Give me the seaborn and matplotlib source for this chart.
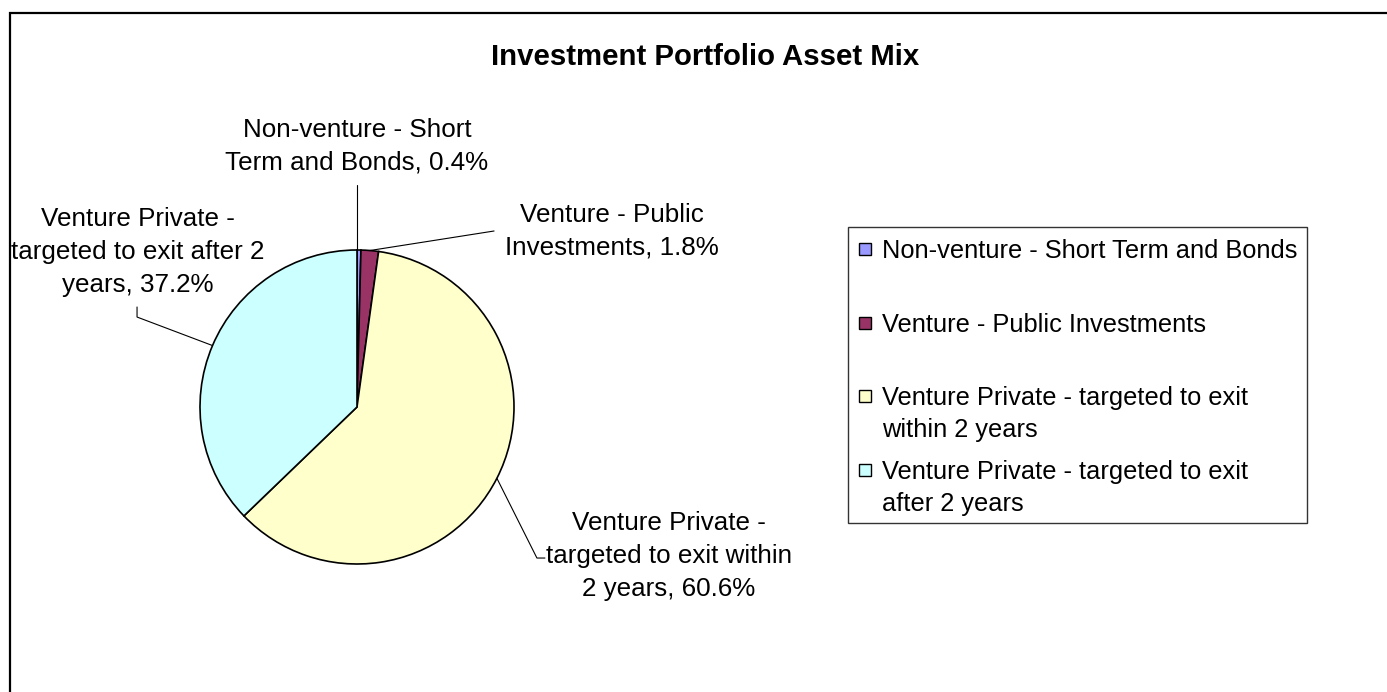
import numpy as np
import matplotlib
matplotlib.use("Agg")
import matplotlib.pyplot as plt
from matplotlib.patches import Rectangle
import seaborn as sns

# data
categories = ["Non-venture - Short Term and Bonds",
              "Venture - Public Investments",
              "Venture Private - targeted to exit within 2 years",
              "Venture Private - targeted to exit after 2 years"]
shares = [0.4, 1.8, 60.6, 37.2]
pie_names = ["Non-venture - Short\nTerm and Bonds",
             "Venture - Public\nInvestments",
             "Venture Private -\ntargeted to exit within\n2 years",
             "Venture Private -\ntargeted to exit after 2\nyears"]
legend_names = ["Non-venture - Short Term and Bonds",
                "Venture - Public Investments",
                "Venture Private - targeted to exit\nwithin 2 years",
                "Venture Private - targeted to exit\nafter 2 years"]
hex_colors = ["#9999FF", "#993366", "#FFFFCC", "#CCFFFF"]

sns.set_theme(style="white")
plt.rcParams["font.family"] = ["Liberation Sans", "DejaVu Sans"]
pal = sns.color_palette(hex_colors)

W, H = 1387, 692
fig = plt.figure(figsize=(W / 100, H / 100), dpi=100)

# outer chart frame (runs off right and bottom edges)
fig.add_artist(Rectangle((10 / W, -0.1), 2, 1 - 13 / H + 0.1, transform=fig.transFigure,
                         fill=False, edgecolor="black", linewidth=1.6))

fig.text(705 / W, 1 - 57 / H, "Investment Portfolio Asset Mix", ha="center", va="center",
         fontsize=21.2, fontweight="bold", color="black")

# pie axes: center (357, 407), radius 157 px
cx, cy, r = 357, 407, 157
ax = fig.add_axes([(cx - r) / W, (H - cy - r) / H, 2 * r / W, 2 * r / H])
wedges, _ = ax.pie(shares, colors=pal, startangle=90, counterclock=False,
                   wedgeprops=dict(edgecolor="black", linewidth=1.2))
ax.set_xlim(-1, 1)
ax.set_ylim(-1, 1)
ax.set_aspect("equal")
ax.axis("off")

# label layout (data units of pie axes)
text_pos = [(0.0, 1.659), (1.624, 1.120), (1.987, -0.949), (-1.398, 0.987)]
leader_pts = [[(0.0, 1.414)],
              [(0.873, 1.121)],
              [(1.146, -0.962), (1.197, -0.962)],
              [(-1.401, 0.573), (-1.401, 0.637)]]

for i, w in enumerate(wedges):
    mid = np.deg2rad((w.theta1 + w.theta2) / 2)
    p0 = (np.cos(mid), np.sin(mid))
    if i == 0:
        p0 = (0.0, 1.0)
    pts = [p0] + leader_pts[i]
    xs, ys = zip(*pts)
    ax.plot(xs, ys, color="black", linewidth=0.8, clip_on=False)
    ax.text(text_pos[i][0], text_pos[i][1], f"{pie_names[i]}, {shares[i]:.1f}%",
            ha="center", va="center", fontsize=18.7, linespacing=1.46,
            color="black", clip_on=False)

# legend box
lx0, ly0, lx1, ly1 = 848, 227, 1307, 523
fig.add_artist(Rectangle((lx0 / W, 1 - ly1 / H), (lx1 - lx0) / W, (ly1 - ly0) / H,
                         transform=fig.transFigure, fill=False,
                         edgecolor="#333333", linewidth=1.0))
slot = 73.7
for i, name in enumerate(legend_names):
    yc = 249 + i * slot
    nlines = name.count("\n")
    fig.add_artist(Rectangle((859 / W, 1 - (yc + 6) / H), 12 / W, 12 / H,
                             transform=fig.transFigure, facecolor=pal[i],
                             edgecolor="black", linewidth=1.0))
    fig.text(882 / W, 1 - (yc + 9 + nlines * 32) / H, name, ha="left", va="baseline",
             fontsize=18.3, linespacing=1.45, color="black")

fig.savefig("out.png", dpi=100)
